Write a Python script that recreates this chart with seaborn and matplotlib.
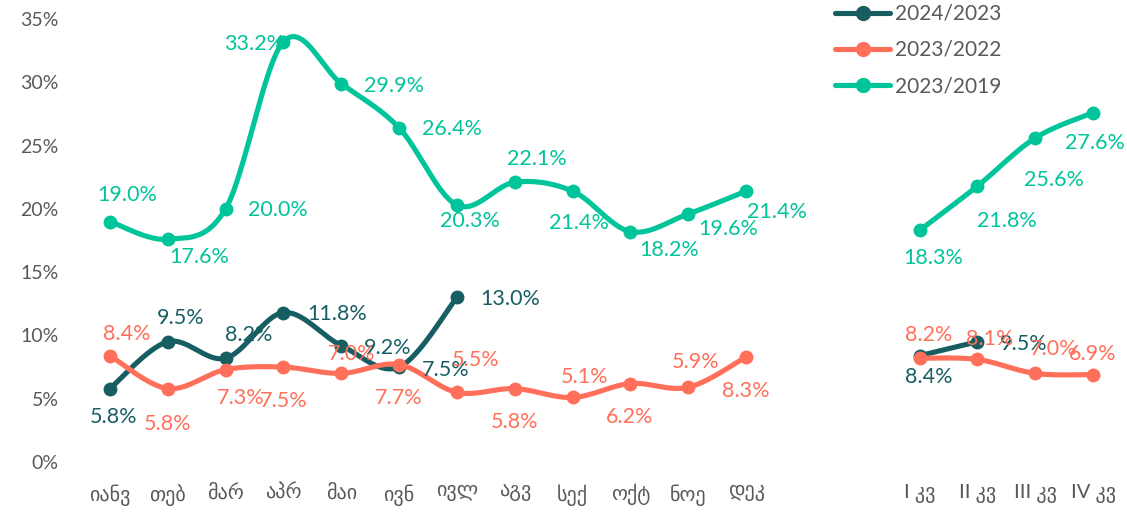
import numpy as np
import pandas as pd
import matplotlib
matplotlib.use("Agg")
import matplotlib.pyplot as plt
from matplotlib.lines import Line2D
import seaborn as sns

# ---------------- data ----------------
month_labels = ["იანვ", "თებ", "მარ", "აპრ", "მაი", "ივნ", "ივლ", "აგვ", "სექ", "ოქტ", "ნოე", "დეკ"]
quarter_labels = ["I კვ", "II კვ", "III კვ", "IV კვ"]
series_names = ["2024/2023", "2023/2022", "2023/2019"]

m_2024_2023 = [5.8, 9.5, 8.2, 11.8, 9.2, 7.5, 13.0]
q_2024_2023 = [8.4, 9.5]
m_2023_2022 = [8.4, 5.8, 7.3, 7.5, 7.0, 7.7, 5.5, 5.8, 5.1, 6.2, 5.9, 8.3]
q_2023_2022 = [8.2, 8.1, 7.0, 6.9]
m_2023_2019 = [19.0, 17.6, 20.0, 33.2, 29.9, 26.4, 20.3, 22.1, 21.4, 18.2, 19.6, 21.4]
q_2023_2019 = [18.3, 21.8, 25.6, 27.6]

# ---------------- style ----------------
colors = {"2024/2023": "#175E63", "2023/2022": "#FF6F59", "2023/2019": "#00C49A"}
text_gray = "#595959"
# label offsets in pixels (dx, dy downward positive)
off_m_2024_2023 = [(4, 28), (13, -24), (23, -23), (54, 1), (46, 2), (47, 3), (53, 2)]
off_q_2024_2023 = [(9, 21), (46, 2)]
off_m_2023_2022 = [(17, -22), (0, 35), (15, 28), (0, 34), (10, -19), (0, 33),
                   (19, -32), (0, 33), (12, -20), (-1, 33), (7, -25), (0, 34)]
off_q_2023_2022 = [(9, -23), (12, -20), (18, -24), (0, -21)]
off_m_2023_2019 = [(17, -27), (31, 18), (52, 1), (-29, 2), (53, 2), (53, 1),
                   (13, 16), (22, -23), (6, 32), (39, 18), (40, 15), (31, 21)]
off_q_2023_2019 = [(14, 28), (29, 35), (19, 42), (2, 30)]

month_pos = list(range(12))
quarter_pos = [14, 15, 16, 17]

sns.set_theme(style="white")
plt.rcParams['font.family'] = ['Lato', 'DejaVu Sans']


def smooth(xs, ys, n=30):
    """Excel-like smoothed line (cubic Bezier with 1/6 tangents)."""
    xs = np.asarray(xs, float)
    ys = np.asarray(ys, float)
    if len(xs) < 3:
        return xs, ys
    P = np.column_stack([xs, ys])
    ext = np.vstack([P[0], P, P[-1]])
    out = []
    t = np.linspace(0, 1, n)[:, None]
    for i in range(len(P) - 1):
        p0, p1 = ext[i + 1], ext[i + 2]
        c1 = p0 + (ext[i + 2] - ext[i]) / 6.0
        c2 = p1 - (ext[i + 3] - ext[i + 1]) / 6.0
        seg = ((1 - t) ** 3) * p0 + 3 * ((1 - t) ** 2) * t * c1 + 3 * (1 - t) * t ** 2 * c2 + t ** 3 * p1
        out.append(seg if i == 0 else seg[1:])
    out = np.vstack(out)
    return out[:, 0], out[:, 1]


fig = plt.figure(figsize=(11.27, 5.17), dpi=100)
ax = fig.add_axes([81 / 1127, 1 - 462 / 517, (1122 - 81) / 1127, (462 - 19) / 517])

groups = [
    ("2024/2023", m_2024_2023, q_2024_2023, off_m_2024_2023, off_q_2024_2023, 2),
    ("2023/2022", m_2023_2022, q_2023_2022, off_m_2023_2022, off_q_2023_2022, 3),
    ("2023/2019", m_2023_2019, q_2023_2019, off_m_2023_2019, off_q_2023_2019, 4),
]

for name, mv, qv, mo, qo, z in groups:
    c = colors[name]
    for vals, pos in ((mv, month_pos[:len(mv)]), (qv, quarter_pos[:len(qv)])):
        sx, sy = smooth(pos, vals)
        sns.lineplot(x=sx, y=sy, sort=False, estimator=None, ax=ax, color=c,
                     linewidth=3.7, zorder=z, legend=False)
        sns.scatterplot(x=pos, y=vals, ax=ax, color=c, s=100, edgecolor=c,
                        linewidth=0, zorder=z + 0.1, legend=False)

for name, mv, qv, mo, qo, z in groups:
    c = colors[name]
    for vals, pos, offs in ((mv, month_pos, mo), (qv, quarter_pos, qo)):
        for v, p, (dx, dy) in zip(vals, pos, offs):
            ax.annotate(f"{v:.1f}%", (p, v), xytext=(dx, -dy), textcoords="offset pixels",
                        ha="center", va="center", fontsize=15.5, color=c, zorder=10)

ax.set_xlim(-0.5, 17.5)
ax.set_ylim(0, 35)
ax.set_yticks(np.arange(0, 36, 5))
ax.set_yticklabels([f"{t}%" for t in range(0, 36, 5)])
ax.set_xticks(month_pos + quarter_pos)
ax.set_xticklabels(month_labels + quarter_labels)
ax.tick_params(axis="y", length=0, pad=16, labelsize=14, labelcolor=text_gray)
ax.tick_params(axis="x", length=0, pad=16, labelsize=14.5, labelcolor=text_gray)
for s in ax.spines.values():
    s.set_visible(False)
ax.grid(False)
ax.set_xlabel("")
ax.set_ylabel("")

handles = [Line2D([0], [0], color=colors[n], lw=3.7, marker="o", markersize=10) for n in series_names]
fig.legend(handles, series_names, loc="center left", bbox_to_anchor=(835 / 1127, 1 - 50 / 517),
           frameon=False, fontsize=15, labelcolor=text_gray, handlelength=2.64,
           handletextpad=0.25, labelspacing=0.77, borderpad=0, borderaxespad=0)

fig.savefig("out.png", dpi=100)
